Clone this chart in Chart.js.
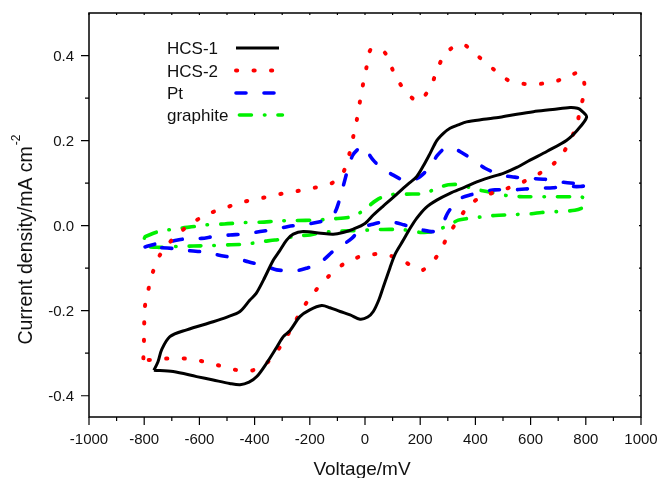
<!DOCTYPE html>
<html>
<head>
<meta charset="utf-8">
<script src="https://cdn.jsdelivr.net/npm/chart.js@4.4.1/dist/chart.umd.min.js"></script>
<style>
  html, body { margin: 0; padding: 0; background: #fff; }
</style>
</head>
<body>
<canvas id="cv" width="661" height="478"></canvas>
<script>
// cyclic voltammograms, values (mV, mA cm^-2)
const hcs1V = [-765, -695, -610, -550, -490, -453, -420, -392, -356, -320,
  -296, -272, -236, -200, -157, -127, -90, -54, -18, 10,
  30, 50, 66, 90, 110, 139, 160, 187, 220, 260,
  308, 360, 405, 450, 501, 550, 598, 660, 731, 770, 803,
  785, 770, 743, 680, 610, 550, 489, 430, 368, 338,
  308, 284, 260, 236, 211, 187, 160, 139, 100, 66,
  30, 0, -42, -80, -115, -160, -224, -260, -284, -310,
  -332, -368, -395, -417, -453, -500, -550, -646, -707, -737, -750, -765];
const hcs1J = [-0.340, -0.343, -0.355, -0.363, -0.371, -0.374, -0.368, -0.355, -0.323, -0.286,
  -0.261, -0.247, -0.214, -0.198, -0.188, -0.193, -0.202, -0.210, -0.220, -0.215,
  -0.202, -0.175, -0.145, -0.100, -0.066, -0.034, -0.010, 0.017, 0.042, 0.060,
  0.076, 0.090, 0.103, 0.113, 0.123, 0.137, 0.154, 0.175, 0.201, 0.225, 0.255,
  0.270, 0.276, 0.278, 0.273, 0.268, 0.262, 0.255, 0.250, 0.244, 0.237,
  0.229, 0.217, 0.200, 0.170, 0.140, 0.115, 0.100, 0.088, 0.065, 0.046,
  0.025, 0.005, -0.008, -0.016, -0.020, -0.018, -0.014, -0.020, -0.034, -0.060,
  -0.081, -0.128, -0.160, -0.175, -0.202, -0.215, -0.226, -0.245, -0.261, -0.292, -0.320, -0.340];

const hcs2V = [-803, -801, -800, -798, -785, -769, -743, -694, -634, -570,
  -506, -445, -380, -318, -256, -193, -129, -100, -76, -56,
  -42, -29, -18, -7, 6, 22, 70, 99, 134, 191,
  236, 260, 292, 350, 414, 473, 530, 593, 656, 719,
  780, 796, 781, 767, 741, 701, 638, 574, 513, 450,
  386, 336, 298, 263, 211, 181, 121, 57, -8, -72,
  -130, -187, -229, -266, -302, -356, -417, -477, -540, -604,
  -664, -731, -791, -803];
const hcs2J = [-0.312, -0.273, -0.233, -0.193, -0.151, -0.110, -0.069, -0.030, 0.003, 0.027,
  0.042, 0.055, 0.064, 0.073, 0.080, 0.088, 0.097, 0.110, 0.129, 0.170,
  0.211, 0.251, 0.293, 0.333, 0.374, 0.415, 0.408, 0.368, 0.327, 0.293,
  0.324, 0.364, 0.405, 0.427, 0.396, 0.364, 0.338, 0.333, 0.335, 0.345,
  0.360, 0.321, 0.278, 0.237, 0.197, 0.156, 0.125, 0.103, 0.087, 0.074,
  0.053, 0.012, -0.027, -0.070, -0.104, -0.099, -0.077, -0.067, -0.071, -0.088,
  -0.118, -0.159, -0.198, -0.241, -0.280, -0.323, -0.342, -0.338, -0.327, -0.317,
  -0.312, -0.313, -0.316, -0.312];

const ptV = [-797, -740, -695, -652, -592, -550, -489, -441, -380, -338,
  -278, -220, -163, -133, -110, -95, -78, -62, -45, -25,
  -8, 10, 30, 60, 91, 139, 170, 199, 236, 262,
  290, 320, 350, 393, 435, 495, 543, 598, 652, 719, 791, 805,
  780, 720, 682, 634, 580, 531, 471, 429, 380, 344,
  326, 300, 284, 260, 248, 205, 181, 140, 103, 60,
  20, 0, -30, -48, -80, -115, -151, -180, -211, -240,
  -270, -320, -362, -423, -465, -532, -568, -634, -670, -740, -797];
const ptJ = [-0.050, -0.040, -0.036, -0.031, -0.030, -0.026, -0.022, -0.020, -0.014, -0.010,
  -0.002, 0.003, 0.009, 0.017, 0.030, 0.055, 0.095, 0.133, 0.165, 0.180,
  0.186, 0.172, 0.154, 0.135, 0.123, 0.107, 0.107, 0.115, 0.139, 0.165,
  0.182, 0.182, 0.172, 0.154, 0.135, 0.119, 0.114, 0.111, 0.109, 0.102, 0.097, 0.095,
  0.092, 0.092, 0.089, 0.088, 0.086, 0.084, 0.084, 0.080, 0.072, 0.064,
  0.053, 0.030, 0.009, -0.008, -0.014, -0.010, -0.006, 0.002, 0.008, 0.008,
  0.002, -0.002, -0.018, -0.030, -0.045, -0.060, -0.081, -0.093, -0.100, -0.105,
  -0.106, -0.104, -0.095, -0.085, -0.077, -0.069, -0.063, -0.059, -0.055, -0.052, -0.051];

const graphiteV = [-797, -749, -713, -670, -616, -574, -510, -441, -380, -310,
  -250, -181, -115, -48, -12, 42, 84, 150, 217, 260,
  302, 350, 386, 441, 483, 519, 573, 650, 749, 785,
  797, 790, 760, 694, 640, 604, 540, 471, 429, 375,
  338, 308, 278, 248, 205, 145, 109, 66, 18, -24,
  -61, -115, -157, -199, -247, -290, -326, -380, -423, -486,
  -556, -622, -682, -752, -790, -803, -797];
const graphiteJ = [-0.026, -0.014, -0.010, -0.006, -0.002, 0.002, 0.004, 0.007, 0.008, 0.011,
  0.012, 0.013, 0.016, 0.021, 0.033, 0.060, 0.072, 0.074, 0.076, 0.088,
  0.096, 0.096, 0.088, 0.080, 0.075, 0.070, 0.068, 0.068, 0.068, 0.068,
  0.055, 0.043, 0.036, 0.033, 0.031, 0.028, 0.026, 0.024, 0.021, 0.017,
  0.013, 0.002, -0.006, -0.014, -0.016, -0.010, -0.009, -0.009, -0.010, -0.012,
  -0.012, -0.014, -0.016, -0.022, -0.024, -0.030, -0.034, -0.038, -0.043, -0.045,
  -0.047, -0.048, -0.049, -0.051, -0.048, -0.038, -0.026];

const xTickLabels = ["-1000", "-800", "-600", "-400", "-200", "0", "200", "400", "600", "800", "1000"];
const yTickLabels = ["-0.4", "-0.2", "0.0", "0.2", "0.4"];

const FONT = '"Liberation Sans", Arial, Helvetica, sans-serif';

const toPoints = (xs, ys) => xs.map((v, i) => ({ x: v, y: ys[i] }));

const series = [
  { label: "HCS-1", xs: hcs1V, ys: hcs1J, color: "#000000", width: 3, dash: [], cap: "butt" },
  { label: "HCS-2", xs: hcs2V, ys: hcs2J, color: "#ff0000", width: 4, dash: [1.2, 16.3], cap: "round" },
  { label: "Pt", xs: ptV, ys: ptJ, color: "#0000ff", width: 3.6, dash: [10, 18], cap: "round" },
  { label: "graphite", xs: graphiteV, ys: graphiteJ, color: "#00f000", width: 3.6, dash: [12, 13, 0.5, 13], cap: "round" },
];

// frame, mirrored ticks, tick labels, axis titles and the legend
const decorPlugin = {
  id: "decor",
  afterDraw(chart) {
    const { ctx, chartArea: a } = chart;
    const x = chart.scales.x;
    const y = chart.scales.y;
    ctx.save();

    ctx.strokeStyle = "#000";
    ctx.lineWidth = 1.5;
    ctx.setLineDash([]);
    ctx.strokeRect(a.left, a.top, a.right - a.left, a.bottom - a.top);

    ctx.lineWidth = 1.2;
    ctx.beginPath();
    for (let i = -10; i <= 10; i++) {
      const px = x.getPixelForValue(i * 100);
      const len = i % 2 === 0 ? 8 : 4;
      ctx.moveTo(px, a.bottom);
      ctx.lineTo(px, a.bottom + len);
      ctx.moveTo(px, a.top);
      ctx.lineTo(px, a.top + 2);
    }
    for (let i = -4; i <= 4; i++) {
      const py = y.getPixelForValue(i / 10);
      const len = i % 2 === 0 ? 8 : 4;
      ctx.moveTo(a.left, py);
      ctx.lineTo(a.left - len, py);
      ctx.moveTo(a.right, py);
      ctx.lineTo(a.right - 2, py);
    }
    ctx.stroke();

    ctx.fillStyle = "#111";
    ctx.font = "15px " + FONT;
    ctx.textAlign = "center";
    ctx.textBaseline = "alphabetic";
    xTickLabels.forEach((t) => {
      ctx.fillText(t, x.getPixelForValue(parseFloat(t)), a.bottom + 27);
    });
    ctx.textAlign = "right";
    ctx.textBaseline = "middle";
    yTickLabels.forEach((t) => {
      ctx.fillText(t, a.left - 15, y.getPixelForValue(parseFloat(t)) + 1);
    });

    // axis titles
    ctx.font = "19px " + FONT;
    ctx.textAlign = "center";
    ctx.textBaseline = "alphabetic";
    ctx.fillText("Voltage/mV", (a.left + a.right) / 2 - 3, 475);

    ctx.save();
    ctx.translate(32, 240);
    ctx.rotate(-Math.PI / 2);
    const main = "Current density/mA cm";
    ctx.font = "19.5px " + FONT;
    const wMain = ctx.measureText(main).width;
    ctx.font = "12px " + FONT;
    const wSup = ctx.measureText("-2").width;
    const start = -(wMain + wSup) / 2;
    ctx.textAlign = "left";
    ctx.font = "19.5px " + FONT;
    ctx.fillText(main, start, 0);
    ctx.font = "12px " + FONT;
    ctx.fillText("-2", start + wMain + 1, -12);
    ctx.restore();

    // legend: text first, then line sample
    ctx.font = "17px " + FONT;
    ctx.textAlign = "left";
    ctx.textBaseline = "alphabetic";
    const rows = [54, 76.5, 99, 121];
    series.forEach((s, i) => {
      ctx.fillStyle = "#111";
      ctx.fillText(s.label, 167, rows[i]);
      const tw = ctx.measureText(s.label).width;
      const x0 = Math.max(236, 167 + tw + 11);
      const ly = rows[i] - 6;
      ctx.beginPath();
      ctx.strokeStyle = s.color;
      ctx.lineWidth = s.width;
      ctx.lineCap = s.cap;
      ctx.setLineDash(s.dash);
      ctx.moveTo(x0, ly);
      ctx.lineTo(x0 + 43, ly);
      ctx.stroke();
    });

    ctx.restore();
  },
};

new Chart(document.getElementById("cv"), {
  type: "scatter",
  data: {
    datasets: series.map((s) => ({
      label: s.label,
      data: toPoints(s.xs, s.ys),
      showLine: true,
      borderColor: s.color,
      backgroundColor: s.color,
      borderWidth: s.width,
      borderDash: s.dash,
      borderCapStyle: s.cap,
      borderJoinStyle: "round",
      pointRadius: 0,
      tension: 0.3,
    })),
  },
  options: {
    responsive: false,
    animation: false,
    layout: { padding: { left: 89, right: 20, top: 13, bottom: 61 } },
    plugins: {
      legend: { display: false },
      tooltip: { enabled: false },
    },
    scales: {
      x: { type: "linear", min: -1000, max: 1000, display: false },
      y: { type: "linear", min: -0.45, max: 0.5, display: false },
    },
  },
  plugins: [decorPlugin],
});
</script>
</body>
</html>
